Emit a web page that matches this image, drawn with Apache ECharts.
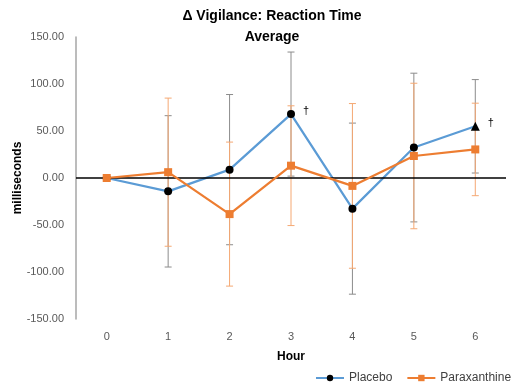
<!DOCTYPE html>
<html>
<head>
<meta charset="utf-8">
<script src="https://cdn.jsdelivr.net/npm/echarts@6/dist/echarts.min.js"></script>
<style>
  html, body { margin: 0; padding: 0; background: #fff; }
  #chart { width: 511px; height: 386px; }
</style>
</head>
<body>
<div id="chart"></div>
<script>
// Hours after dose (x categories)
const hours = ['0', '1', '2', '3', '4', '5', '6'];

// Change in reaction time (ms) and error bar half-lengths
const placeboMean = [0, -14.2, 8.9, 68, -32.6, 32.4, 55];
const placeboErr = [0, 80.5, 79.9, 66, 91, 79.1, 49.7];
const paraxMean = [0, 6.2, -38.4, 13.1, -8.4, 23.4, 30.4];
const paraxErr = [0, 78.8, 76.6, 63.7, 87.6, 77.4, 49.2];

// Marker per placebo point, and which points carry a dagger
const placeboSymbols = ['circle', 'circle', 'circle', 'circle', 'circle', 'circle', 'triangle'];
const placeboDagger = [false, false, false, true, false, false, true];

const yTicks = { min: -150, max: 150, interval: 50 };

const FONT = 'Liberation Sans';

function errorData(mean, err) {
    return mean
        .map((m, i) => [i, m - err[i], m + err[i], err[i]])
        .filter((d) => d[3] > 0);
}

function errorBarRenderer(color) {
    return (params, api) => {
        const x = api.value(0);
        const top = api.coord([x, api.value(2)]);
        const bottom = api.coord([x, api.value(1)]);
        const half = 3.5;
        const style = { stroke: color, lineWidth: 1 };
        return {
            type: 'group',
            children: [
                { type: 'line', shape: { x1: top[0], y1: top[1], x2: bottom[0], y2: bottom[1] }, style },
                { type: 'line', shape: { x1: top[0] - half, y1: top[1], x2: top[0] + half, y2: top[1] }, style },
                { type: 'line', shape: { x1: bottom[0] - half, y1: bottom[1], x2: bottom[0] + half, y2: bottom[1] }, style },
            ],
        };
    };
}

const chart = echarts.init(document.getElementById('chart'), null, { renderer: 'canvas' });

chart.setOption({
    animation: false,
    backgroundColor: '#fff',
    textStyle: { fontFamily: FONT },
    title: {
        text: 'Δ Vigilance: Reaction Time\nAverage',
        left: 267,
        top: 1,
        textAlign: 'center',
        textStyle: { fontFamily: FONT, fontSize: 14, fontWeight: 'bold', color: '#000', lineHeight: 21 },
    },
    legend: {
        left: 315,
        top: 372,
        padding: 0,
        width: 300,
        itemWidth: 28,
        itemHeight: 8,
        itemGap: 14,
        textStyle: { fontFamily: FONT, fontSize: 12, color: '#404040' },
        data: ['Placebo', 'Paraxanthine'],
    },
    grid: { left: 76, right: 5, top: 37, bottom: 67, containLabel: false, outerBoundsMode: 'none' },
    xAxis: {
        type: 'category',
        data: hours,
        boundaryGap: true,
        name: 'Hour',
        nameLocation: 'middle',
        nameGap: 32,
        nameMoveOverlap: false,
        nameTextStyle: { fontFamily: FONT, fontSize: 12, fontWeight: 'bold', color: '#000' },
        axisLine: { show: false },
        axisTick: { show: false },
        axisLabel: { margin: 12, fontSize: 11, color: '#595959' },
        splitLine: { show: false },
    },
    yAxis: {
        type: 'value',
        min: yTicks.min,
        max: yTicks.max,
        interval: yTicks.interval,
        name: 'milliseconds',
        nameLocation: 'middle',
        nameGap: 52,
        nameMoveOverlap: false,
        nameTextStyle: { fontFamily: FONT, fontSize: 12, fontWeight: 'bold', color: '#000' },
        axisLine: { show: true, lineStyle: { color: '#a6a6a6', width: 1.5 } },
        axisTick: { show: false },
        axisLabel: { margin: 12, fontSize: 11, color: '#595959', formatter: (v) => v.toFixed(2) },
        splitLine: { show: false },
    },
    series: [
        {
            name: 'placeboErr',
            type: 'custom',
            z: 2,
            silent: true,
            renderItem: errorBarRenderer('#8c8c8c'),
            encode: { x: 0, y: [1, 2] },
            data: errorData(placeboMean, placeboErr),
            markLine: {
                silent: true,
                symbol: 'none',
                label: { show: false },
                lineStyle: { color: '#000', width: 1.5, type: 'solid' },
                data: [{ yAxis: 0 }],
            },
        },
        {
            name: 'paraxErr',
            type: 'custom',
            z: 3,
            silent: true,
            renderItem: errorBarRenderer('#f5a873'),
            encode: { x: 0, y: [1, 2] },
            data: errorData(paraxMean, paraxErr),
        },
        {
            name: 'Placebo',
            type: 'line',
            z: 4,
            symbol: 'circle',
            symbolSize: 8,
            lineStyle: { color: '#5b9bd5', width: 2.25 },
            itemStyle: { color: '#000' },
            data: placeboMean.map((v, i) => ({
                value: v,
                symbol: placeboSymbols[i],
                symbolSize: placeboSymbols[i] === 'triangle' ? 9 : 8,
                label: placeboDagger[i]
                    ? { show: true, formatter: '†', position: 'right', distance: 8, offset: [0, -3], color: '#000', fontSize: 11 }
                    : { show: false },
            })),
        },
        {
            name: 'Paraxanthine',
            type: 'line',
            z: 5,
            symbol: 'rect',
            symbolSize: 8,
            lineStyle: { color: '#ed7d31', width: 2.25 },
            itemStyle: { color: '#ed7d31' },
            data: paraxMean,
        },
    ],
});
</script>
</body>
</html>
